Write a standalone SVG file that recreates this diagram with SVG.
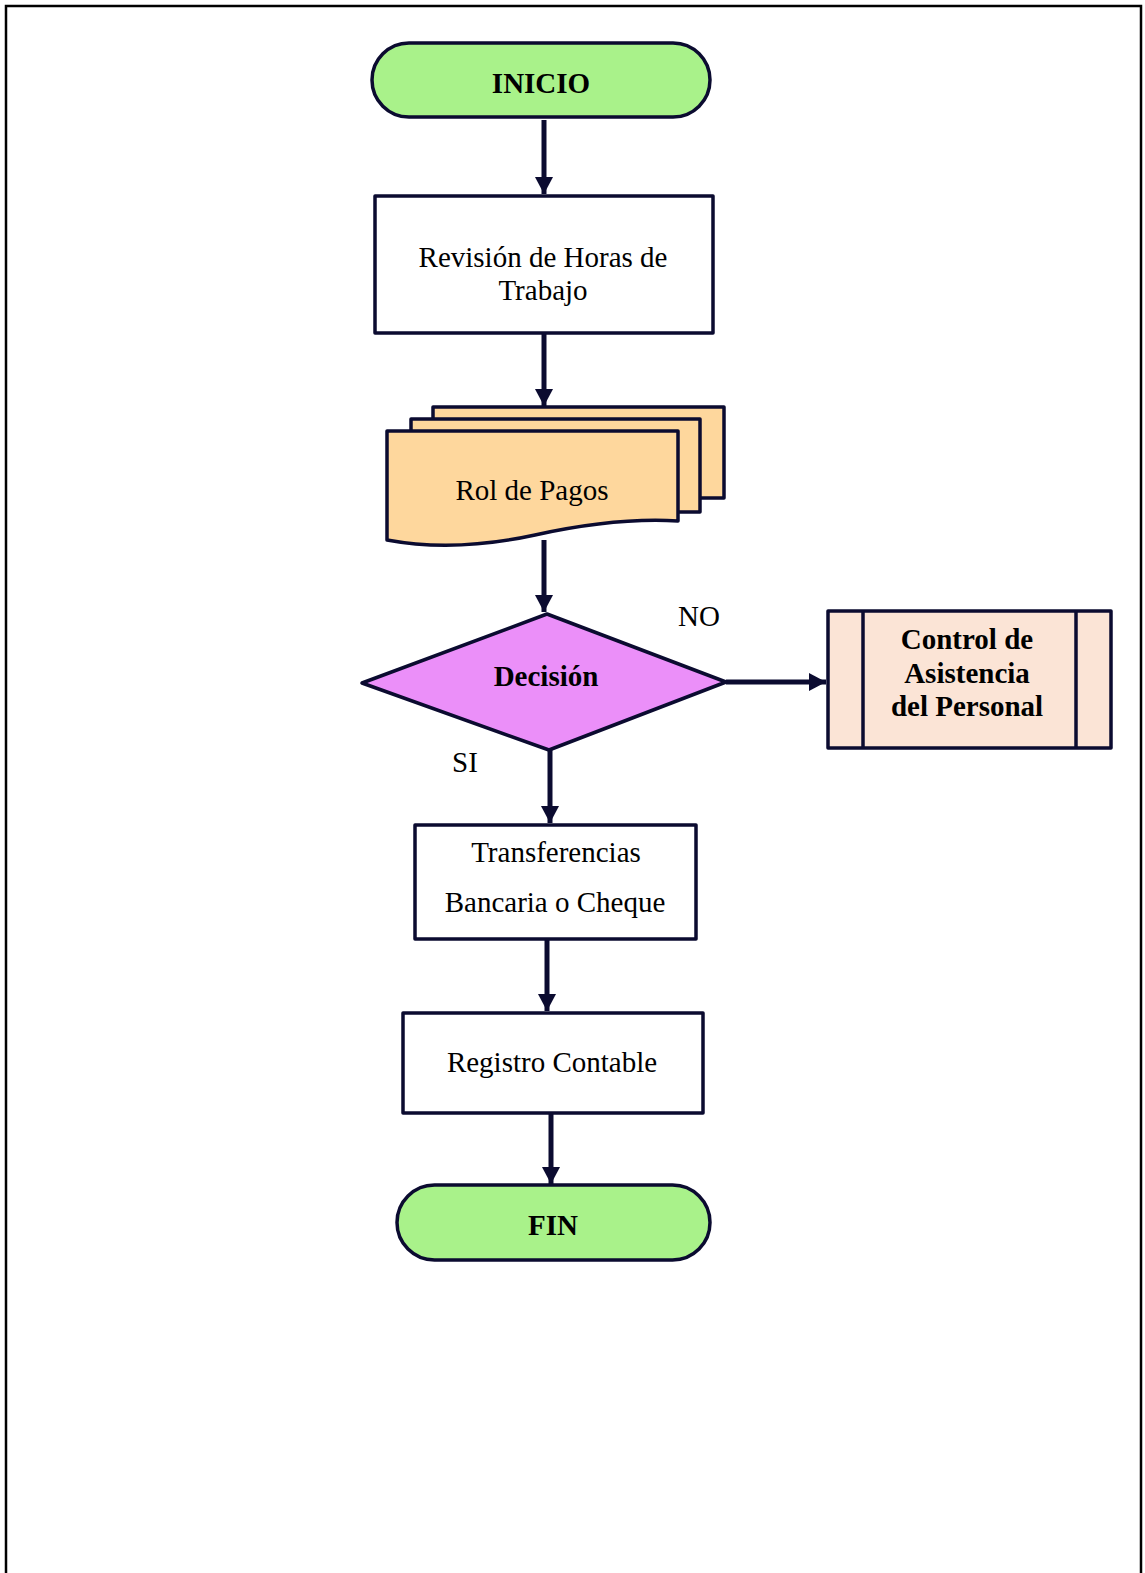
<svg xmlns="http://www.w3.org/2000/svg" width="1145" height="1573" viewBox="0 0 1145 1573">
  <style>
    .shape { stroke: #0b0b30; stroke-width: 3.5; stroke-linejoin: round; }
    .txt { font-family: "Liberation Serif", "Times New Roman", serif; font-size: 29px; fill: #000; text-anchor: middle; }
    .bold { font-weight: bold; }
    .flow { stroke: #0b0b30; stroke-width: 5; fill: none; marker-end: url(#arrow); }
  </style>
  <defs>
    <marker id="arrow" viewBox="0 0 17 18" markerUnits="userSpaceOnUse" markerWidth="17" markerHeight="18" refX="17" refY="9" orient="auto">
      <path d="M0,0 L17,9 L0,18 Z" fill="#0b0b30"/>
    </marker>
  </defs>

  <rect width="1145" height="1573" fill="#fff"/>
  <!-- page frame, open at the bottom -->
  <path d="M6,1573 V6 H1141 V1573" fill="none" stroke="#000" stroke-width="2.5"/>

  <g id="connectors">
    <line class="flow" x1="544" y1="120" x2="544" y2="194"/>
    <line class="flow" x1="544" y1="333" x2="544" y2="406"/>
    <line class="flow" x1="544" y1="540" x2="544" y2="612"/>
    <line class="flow" x1="726" y1="682" x2="826" y2="682"/>
    <line class="flow" x1="550" y1="750" x2="550" y2="823"/>
    <line class="flow" x1="547" y1="939" x2="547" y2="1011"/>
    <line class="flow" x1="551" y1="1113" x2="551" y2="1184"/>
  </g>

  <g id="inicio">
    <rect class="shape" x="372" y="43" width="338" height="74" rx="37" fill="#a9f28a"/>
    <text class="txt bold" x="541" y="93">INICIO</text>
  </g>

  <g id="revision">
    <rect class="shape" x="375" y="196" width="338" height="137" fill="#fff"/>
    <text class="txt" x="543" y="267">Revisión de Horas de</text>
    <text class="txt" x="543" y="300">Trabajo</text>
  </g>

  <g id="rol-pagos">
    <rect class="shape" x="433" y="407" width="291" height="91" fill="#fed79d"/>
    <rect class="shape" x="411" y="419" width="289" height="93" fill="#fed79d"/>
    <path class="shape" d="M387,431 H678 V521 C630,518 585,524 535,535 C480,547 430,548 387,540 Z" fill="#fed79d"/>
    <text class="txt" x="532" y="500">Rol de Pagos</text>
  </g>

  <g id="decision">
    <polygon class="shape" points="547,614 726,682 549,750 362,683" fill="#eb8ff9"/>
    <text class="txt bold" x="546" y="686">Decisión</text>
    <text class="txt" x="699" y="626">NO</text>
    <text class="txt" x="465" y="772">SI</text>
  </g>

  <g id="control-asistencia">
    <rect class="shape" x="828" y="611" width="283" height="137" fill="#fbe4d6"/>
    <line class="shape" x1="863" y1="611" x2="863" y2="748"/>
    <line class="shape" x1="1076" y1="611" x2="1076" y2="748"/>
    <text class="txt bold" x="967" y="649">Control de</text>
    <text class="txt bold" x="967" y="683">Asistencia</text>
    <text class="txt bold" x="967" y="716">del Personal</text>
  </g>

  <g id="transferencias">
    <rect class="shape" x="415" y="825" width="281" height="114" fill="#fff"/>
    <text class="txt" x="556" y="862">Transferencias</text>
    <text class="txt" x="555" y="912">Bancaria o Cheque</text>
  </g>

  <g id="registro">
    <rect class="shape" x="403" y="1013" width="300" height="100" fill="#fff"/>
    <text class="txt" x="552" y="1072">Registro Contable</text>
  </g>

  <g id="fin">
    <rect class="shape" x="397" y="1185" width="313" height="75" rx="37.5" fill="#a9f28a"/>
    <text class="txt bold" x="553" y="1235">FIN</text>
  </g>
</svg>
